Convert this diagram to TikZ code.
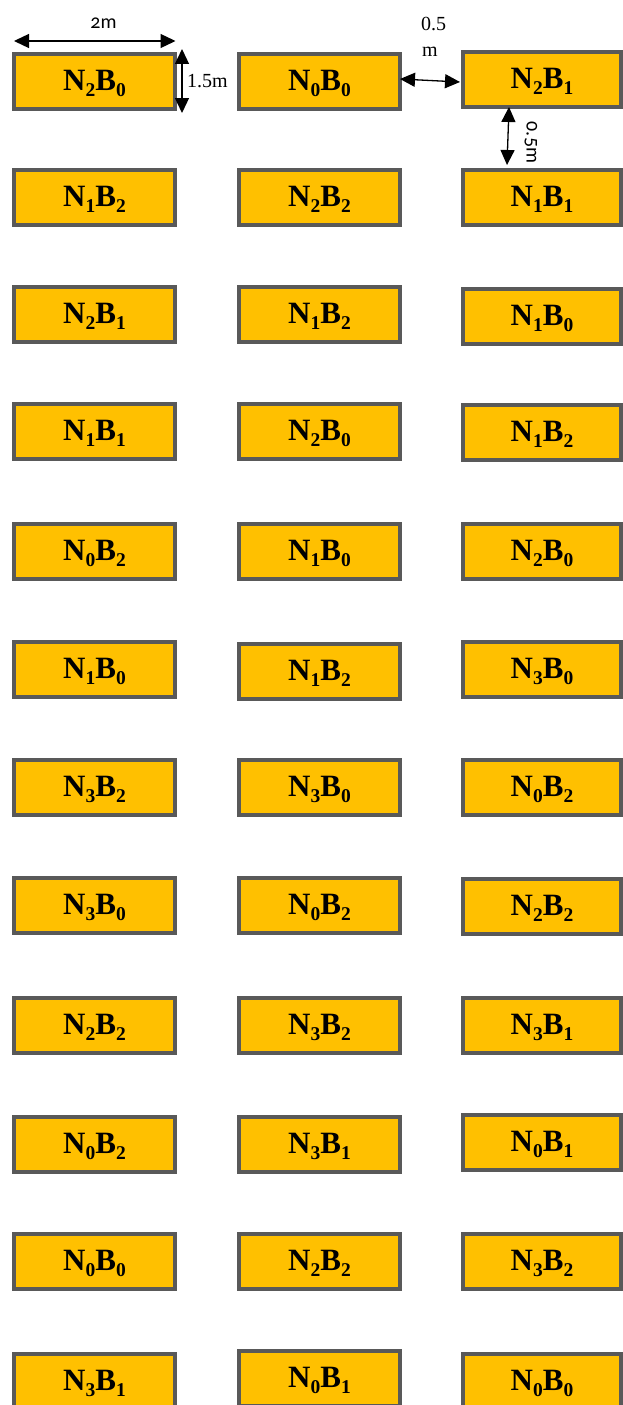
\documentclass[tikz,border=0pt]{standalone}
\usepackage{fontspec}
\setmainfont{Liberation Serif}
\newfontfamily\dimfont[Numbers=OldStyle]{Carlito}
\usetikzlibrary{arrows.meta}
\definecolor{boxfill}{HTML}{FFC000}
\definecolor{boxline}{HTML}{595959}
\newcommand\lbl[2]{N\raisebox{-6pt}{\fontsize{19.5}{19.5}\selectfont #1}B\raisebox{-6pt}{\fontsize{19.5}{19.5}\selectfont #2}}
\tikzset{
  plotbox/.style={draw=boxline, fill=boxfill, line width=4pt, minimum width=161pt,
    minimum height=55pt, inner sep=0pt, text height=20pt, text depth=2pt,
    font=\fontsize{31}{31}\selectfont\bfseries},
  rbox/.style={plotbox, minimum width=158pt},
  dimarrow/.style={{Triangle[length=15pt,width=14pt]}-{Triangle[length=15pt,width=14pt]}, line width=1.3pt},
  dimlbl/.style={font=\dimfont\fontsize{20}{20}\selectfont, inner sep=0pt},
  serlbl/.style={font=\fontsize{20}{20}\selectfont, inner sep=0pt}
}
\begin{document}
\begin{tikzpicture}[x=1pt,y=-1pt]
\useasboundingbox (0,0) rectangle (623,1405);
% column 1
\node[plotbox] (a1) at (94.5,81.5) {\lbl{2}{0}};
\node[plotbox] (a2) at (94.5,197.5) {\lbl{1}{2}};
\node[plotbox] (a3) at (94.5,314.5) {\lbl{2}{1}};
\node[plotbox] (a4) at (94.5,431.5) {\lbl{1}{1}};
\node[plotbox] (a5) at (94.5,551.5) {\lbl{0}{2}};
\node[plotbox] (a6) at (94.5,669.5) {\lbl{1}{0}};
\node[plotbox] (a7) at (94.5,787.5) {\lbl{3}{2}};
\node[plotbox] (a8) at (94.5,905.5) {\lbl{3}{0}};
\node[plotbox] (a9) at (94.5,1025.5) {\lbl{2}{2}};
\node[plotbox] (a10) at (94.5,1144.5) {\lbl{0}{2}};
\node[plotbox] (a11) at (94.5,1261.5) {\lbl{0}{0}};
\node[plotbox] (a12) at (94.5,1381.5) {\lbl{3}{1}};
% column 2
\node[plotbox] (b1) at (319.5,81.5) {\lbl{0}{0}};
\node[plotbox] (b2) at (319.5,197.5) {\lbl{2}{2}};
\node[plotbox] (b3) at (319.5,314.5) {\lbl{1}{2}};
\node[plotbox] (b4) at (319.5,431.5) {\lbl{2}{0}};
\node[plotbox] (b5) at (319.5,551.5) {\lbl{1}{0}};
\node[plotbox] (b6) at (319.5,671.5) {\lbl{1}{2}};
\node[plotbox] (b7) at (319.5,787.5) {\lbl{3}{0}};
\node[plotbox] (b8) at (319.5,905.5) {\lbl{0}{2}};
\node[plotbox] (b9) at (319.5,1025.5) {\lbl{3}{2}};
\node[plotbox] (b10) at (319.5,1144.5) {\lbl{3}{1}};
\node[plotbox] (b11) at (319.5,1261.5) {\lbl{2}{2}};
\node[plotbox] (b12) at (319.5,1378.5) {\lbl{0}{1}};
% column 3
\node[rbox] (c1) at (542,79.5) {\lbl{2}{1}};
\node[rbox] (c2) at (542,197.5) {\lbl{1}{1}};
\node[rbox] (c3) at (542,316.5) {\lbl{1}{0}};
\node[rbox] (c4) at (542,432.5) {\lbl{1}{2}};
\node[rbox] (c5) at (542,551.5) {\lbl{2}{0}};
\node[rbox] (c6) at (542,669.5) {\lbl{3}{0}};
\node[rbox] (c7) at (542,787.5) {\lbl{0}{2}};
\node[rbox] (c8) at (542,906.5) {\lbl{2}{2}};
\node[rbox] (c9) at (542,1025.5) {\lbl{3}{1}};
\node[rbox] (c10) at (542,1142.5) {\lbl{0}{1}};
\node[rbox] (c11) at (542,1261.5) {\lbl{3}{2}};
\node[rbox] (c12) at (542,1381.5) {\lbl{0}{0}};
% dimension ends
\coordinate (w1) at (14,41);
\coordinate (w2) at (175.5,41);
\coordinate (h1) at (182,49);
\coordinate (h2) at (182,113);
\coordinate (g1) at (400,79);
\coordinate (g2) at (460,82);
\coordinate (v1) at (509,107);
\coordinate (v2) at (507,165);
\draw[dimarrow] (w1) -- (w2);
\draw[dimarrow] (h1) -- (h2);
\draw[dimarrow] (g1) -- (g2);
\draw[dimarrow] (v1) -- (v2);
% dimension labels
\node[dimlbl, anchor=base] (t2m) at (103.5,29) {2m};
\node[serlbl, anchor=base] (t15) at (207.5,87) {1.5m};
\node[serlbl, anchor=base west] (t05a) at (421,31) {0.5};
\node[serlbl, anchor=base west] (t05b) at (422,57) {m};
\node[dimlbl, rotate=-90] (t05v) at (531,142.5) {0.5m};
\end{tikzpicture}
\end{document}
